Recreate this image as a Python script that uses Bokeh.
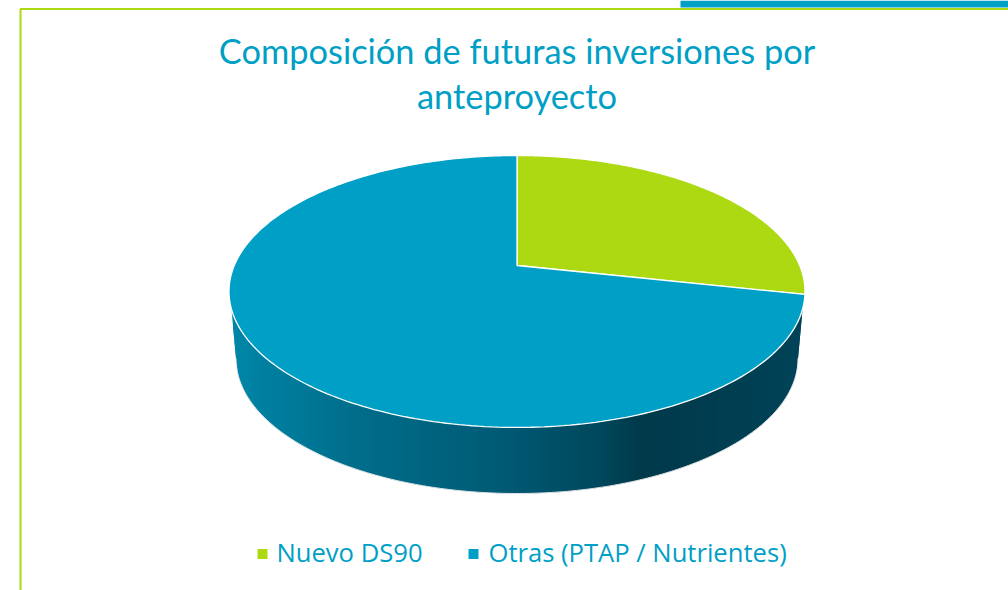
import numpy as np
from bokeh.embed import file_html
from bokeh.resources import INLINE
from bokeh.plotting import figure
from bokeh.models import Range1d
from bokeh.core.properties import value

title_lines = ["Composición de futuras inversiones por", "anteproyecto"]
categories = ["Nuevo DS90", "Otras (PTAP / Nutrientes)"]
shares = [28.4, 71.6]
colors = ["#ACD911", "#009FC6"]
BLUE = "#009FC6"
GREEN = "#ACD911"

W, H = 1008, 590
p = figure(width=W, height=H, x_range=Range1d(0, W), y_range=Range1d(H, 0),
           output_backend="svg", toolbar_location=None, min_border=0,
           background_fill_color="white", border_fill_color="white", outline_line_color=None)
p.axis.visible = False
p.grid.visible = False

# frame
p.quad(left=[680], right=[W], top=[0], bottom=[7], color=BLUE, line_width=0)
p.line([20, 20, W], [H, 8.5, 8.5], line_color=GREEN, line_width=2)

# perspective disc: unit circle -> screen
CX, AY, B, A, C = 516.5, 265.0, 282.7, 131.0, 0.191
def disc(theta):
    x, y = np.cos(theta), np.sin(theta)
    w = 1 + C * y
    return CX + B * x / w, AY - A * y / w

# lower shape of the extruded side
BX, BY, BRX, BRY = 516.5, 358.0, 281.0, 135.0
TY, TRY, TRX = 291.0, 136.0, 288.0
WALL_HALF, WALL_TOP_Y = 285.5, 309.0

def wall_bottom(x):
    dx = abs(x - BX)
    if dx <= BRX:
        return BY + BRY * np.sqrt(1 - (dx / BRX) ** 2)
    # the wall tapers in from the rim of the disc
    return float(np.interp(dx, [BRX, WALL_HALF], [BY, WALL_TOP_Y]))

def wall_top(x):
    d = min(abs(x - CX) / TRX, 1.0)
    return TY + TRY * np.sqrt(1 - d ** 2)

# side wall, as overlapping vertical strips
stops_x = [232, 350, 500, 600, 640, 700, 801]
stops_c = [(0, 134, 168), (0, 111, 140), (0, 91, 117), (0, 72, 92), (0, 58, 75), (0, 61, 79), (0, 67, 88)]
edges = np.arange(BX - WALL_HALF, BX + WALL_HALF, 1.5)
XS, YS, Col = [], [], []
for x0 in edges:
    x1 = min(x0 + 3, BX + WALL_HALF)
    xm = x0 + 0.75
    XS.append([x0, x1, x1, x0])
    YS.append([wall_top(x0) - 2, wall_top(x1) - 2, wall_bottom(x1), wall_bottom(x0)])
    rgb = [int(np.interp(xm, stops_x, [c[i] for c in stops_c])) for i in range(3)]
    Col.append("#%02x%02x%02x" % tuple(rgb))
p.patches(XS, YS, fill_color=Col, line_color=None)

# pale rim of the wall
t = np.linspace(0, np.pi, 200)
p.line(BX + BRX * np.cos(t), BY + BRY * np.sin(t), line_color="#e4e8ea", line_width=1)

# top slices, clockwise from 12 o'clock
start = 0.0
for share, col in zip(shares, colors):
    end = start + share / sum(shares)
    th = np.pi / 2 - 2 * np.pi * np.linspace(start, end, 240)
    xs, ys = disc(th)
    p.patch(np.r_[CX, xs], np.r_[AY, ys], fill_color=col, line_color="white", line_width=1.3)
    start = end

# title
for line, y in zip(title_lines, [50, 95]):
    p.text([516.5], [y], text=[line], text_font=value("Lato"), text_font_size="34.4px",
           text_color=BLUE, text_align="center", text_baseline="middle")

# legend
p.rect([262, 473], [553.5, 553.5], width=10, height=10, fill_color=colors, line_width=0)
p.text([276, 488], [551.5, 551.5], text=categories, text_font=value("Open Sans"), text_font_size="25.6px",
       text_color=BLUE, text_align="left", text_baseline="middle")

open("out.html", "w").write(file_html(p, INLINE))
